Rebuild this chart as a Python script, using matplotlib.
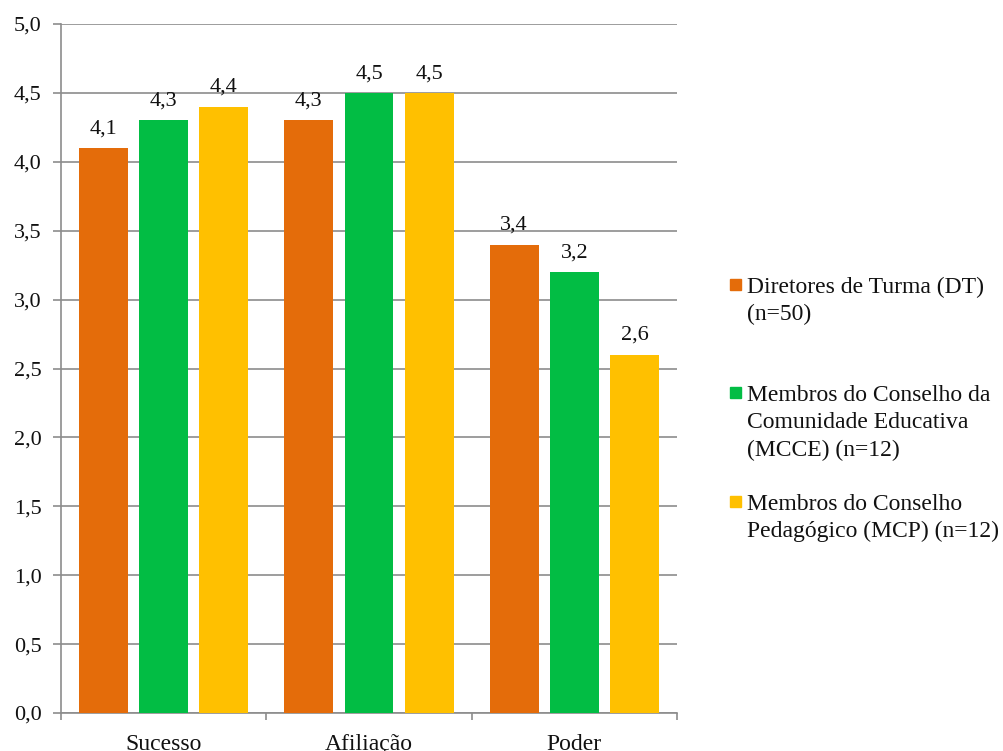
import matplotlib
matplotlib.use("Agg")
import matplotlib.pyplot as plt
from matplotlib.patches import Rectangle
import numpy as np

# dimensões avaliadas e médias por grupo
categorias = ["Sucesso", "Afiliação", "Poder"]
diretores = [4.1, 4.3, 3.4]
mcce = [4.3, 4.5, 3.2]
mcp = [4.4, 4.5, 2.6]

series = [
    ("Diretores de Turma (DT)\n(n=50)", diretores, "#E46C0A"),
    ("Membros do Conselho da\nComunidade Educativa\n(MCCE) (n=12)", mcce, "#02BD44"),
    ("Membros do Conselho\nPedagógico (MCP) (n=12)", mcp, "#FFC000"),
]

plt.rcParams["font.family"] = ["Liberation Serif", "DejaVu Serif"]
plt.rcParams["font.size"] = 16
plt.rcParams["text.color"] = "#111111"
plt.rcParams["xtick.color"] = "#111111"
plt.rcParams["ytick.color"] = "#111111"

fig = plt.figure(figsize=(10.04, 7.51), dpi=100)
ax = fig.add_axes([0.0608, 0.0506, 0.6135, 0.9174])

grid_col = "#8C8C8C"
x = np.arange(len(categorias))
width = 0.238
step = 0.293

for i, (nome, vals, cor) in enumerate(series):
    pos = x + (i - 1) * step
    bars = ax.bar(pos, vals, width, color=cor, zorder=3)
    for b, v in zip(bars, vals):
        ax.annotate(f"{v:.1f}".replace(".", ","),
                    (b.get_x() + b.get_width() / 2, v),
                    xytext=(0, 7), textcoords="offset points",
                    ha="center", va="bottom", fontsize=16)

ax.set_xlim(-0.5, len(categorias) - 0.5)
ax.set_ylim(0, 5)
yt = np.arange(0, 5.01, 0.5)
ax.set_yticks(yt)
ax.set_yticklabels([f"{v:.1f}".replace(".", ",") for v in yt], fontsize=16)
ax.yaxis.grid(True, color=grid_col, linewidth=1.2, zorder=0)

ax.set_xticks(x)
ax.set_xticklabels(categorias, fontsize=17)
ax.set_xticks(np.arange(-0.5, len(categorias), 1.0), minor=True)
ax.tick_params(axis="x", which="major", length=0, pad=15)
ax.tick_params(axis="x", which="minor", length=5, color=grid_col, width=1.2)
ax.tick_params(axis="y", length=6, color=grid_col, width=1.2, pad=8)

for s in ["top", "right"]:
    ax.spines[s].set_visible(False)
for s in ["left", "bottom"]:
    ax.spines[s].set_color(grid_col)
    ax.spines[s].set_linewidth(1.2)

# legenda desenhada à mão, com o marcador alinhado à primeira linha
W, H = 1004, 751
linha = 27.5
bases = [293, 401, 510]
for (nome, vals, cor), yb in zip(series, bases):
    fig.patches.append(Rectangle((730 / W, 1 - (yb - 3) / H), 11 / W, 11 / H,
                                 transform=fig.transFigure, color=cor))
    for k, txt in enumerate(nome.split("\n")):
        fig.text(747 / W, 1 - (yb + k * linha) / H, txt,
                 ha="left", va="baseline", fontsize=17)

fig.savefig("out.png", dpi=100)
